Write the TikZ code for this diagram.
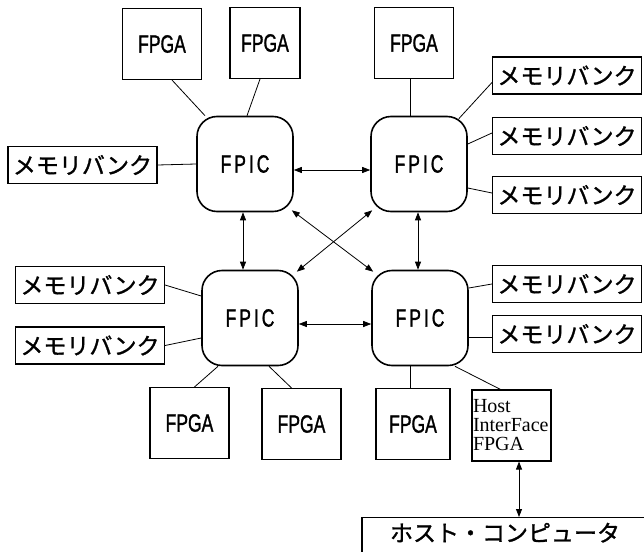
\documentclass[tikz,border=0pt]{standalone}
\usepackage{fontspec}
\setmainfont{Liberation Serif}
\newfontfamily\jpfont[FakeBold=1.2]{Noto Sans CJK JP}
\newfontfamily\narrowfont[FakeStretch=0.7, FakeBold=1.2]{Liberation Sans}
\newfontfamily\fpicfont[FakeStretch=0.7, FakeBold=1.2, LetterSpace=12]{Liberation Sans}
\usetikzlibrary{arrows.meta}

\begin{document}
\begin{tikzpicture}[x=1pt, y=-1pt,
    box/.style={draw, line width=1.1pt, inner sep=0pt},
    fpga/.style={box, minimum width=79pt, minimum height=71pt, font=\narrowfont\fontsize{25}{25}\selectfont},
    fpic/.style={draw, line width=1.6pt, rounded corners=20pt, minimum width=96pt, minimum height=95pt, font=\fpicfont\fontsize{25}{25}\selectfont},
    mem/.style={box, minimum width=149pt, minimum height=37pt, font=\jpfont\fontsize{23}{23}\selectfont},
    link/.style={line width=0.8pt},
    duplex/.style={line width=0.8pt, {Triangle[length=8pt,width=6pt]}-{Triangle[length=8pt,width=6pt]}}]
    \useasboundingbox (0,0) rectangle (644,551);

    % four FPICs
    \node[fpic] (fpicTL) at (245,164) {FPIC};
    \node[fpic] (fpicTR) at (419,164) {FPIC};
    \node[fpic] (fpicBL) at (250,318) {FPIC};
    \node[fpic] (fpicBR) at (420,318) {FPIC};

    % FPGAs
    \node[fpga] (fpgaA) at (162,44) {FPGA};
    \node[fpga, minimum width=70pt] (fpgaB) at (265,43) {FPGA};
    \node[fpga] (fpgaC) at (414,43) {FPGA};
    \node[fpga] (fpgaD) at (189.5,423) {FPGA};
    \node[fpga] (fpgaE) at (301.5,424) {FPGA};
    \node[fpga, minimum width=74pt] (fpgaF) at (413,424) {FPGA};
    \node[box, minimum width=79pt, minimum height=71pt, text width=77pt, align=left,
          font=\fontsize{20}{19}\selectfont] (hostif) at (511.5,425.5) {Host\\InterFace\\FPGA};

    % memory banks
    \node[mem] (memL) at (82.5,165) {メモリバンク};
    \node[mem] (memBLa) at (90,285) {メモリバンク};
    \node[mem] (memBLb) at (90,345.5) {メモリバンク};
    \foreach \n/\y in {memTRa/75.5, memTRb/136, memTRc/195, memBRa/284, memBRb/334}
    \node[mem] (\n) at (567,\y) {メモリバンク};

    \node[box, anchor=north, minimum width=286pt, text height=24pt, text depth=40pt,
          font=\jpfont\fontsize{23}{23}\selectfont] (host) at (505,517) {ホスト・コンピュータ};

    % plain links
    \draw[link] ([xshift=10pt]fpgaA.south) -- ([xshift=-40pt]fpicTL.north);
    \draw[link] ([xshift=-5pt]fpgaB.south) -- ([xshift=2pt]fpicTL.north);
    \draw[link] (memL.east) -- (fpicTL.west);
    \draw[link] ([xshift=-4pt]fpgaC.south) -- ([xshift=-9pt]fpicTR.north);
    \draw[link] ([yshift=-7pt]memTRa.west) -- ([shift={(-9pt,-3pt)}]fpicTR.north east);
    \draw[link] ([yshift=3pt]memTRb.west) -- ([yshift=20pt]fpicTR.east);
    \draw[link] ([yshift=2pt]memTRc.west) -- ([yshift=-24pt]fpicTR.east);
    \draw[link] (memBLa.east) -- ([yshift=22pt]fpicBL.west);
    \draw[link] (memBLb.east) -- ([yshift=-20pt]fpicBL.west);
    \draw[link] ([xshift=5pt]fpgaD.north) -- ([xshift=-32pt]fpicBL.south);
    \draw[link] ([xshift=-10pt]fpgaE.north) -- ([xshift=19pt]fpicBL.south);
    \draw[link] (memBRa.west) -- ([yshift=30pt]fpicBR.east);
    \draw[link] ([yshift=-3pt]memBRb.west) -- ([yshift=-19pt]fpicBR.east);
    \draw[link] ([xshift=-3pt]fpgaF.north) -- ([xshift=-10pt]fpicBR.south);
    \draw[link] ([xshift=-11pt]hostif.north) -- ([xshift=35pt]fpicBR.south);

    % FPIC to FPIC
    \draw[duplex] ([yshift=-6pt]fpicTL.east) -- ([yshift=-6pt]fpicTR.west);
    \draw[duplex] ([yshift=-6pt]fpicBL.east) -- ([yshift=-6pt]fpicBR.west);
    \draw[duplex] ([xshift=-2pt]fpicTL.south) -- ([xshift=-2pt]fpicTL.south |- fpicBL.north);
    \draw[duplex] ([xshift=-1pt]fpicTR.south) -- ([xshift=-1pt]fpicTR.south |- fpicBR.north);
    \draw[duplex] ([shift={(-2pt,2pt)}]fpicTL.south east) -- ([shift={(2pt,-2pt)}]fpicBR.north west);
    \draw[duplex] ([shift={(-2pt,-2pt)}]fpicBL.north east) -- ([shift={(2pt,2pt)}]fpicTR.south west);

    % to the host
    \draw[duplex] ([xshift=7.5pt]hostif.south) -- ([xshift=7.5pt]hostif.south |- host.north);
\end{tikzpicture}
\end{document}
